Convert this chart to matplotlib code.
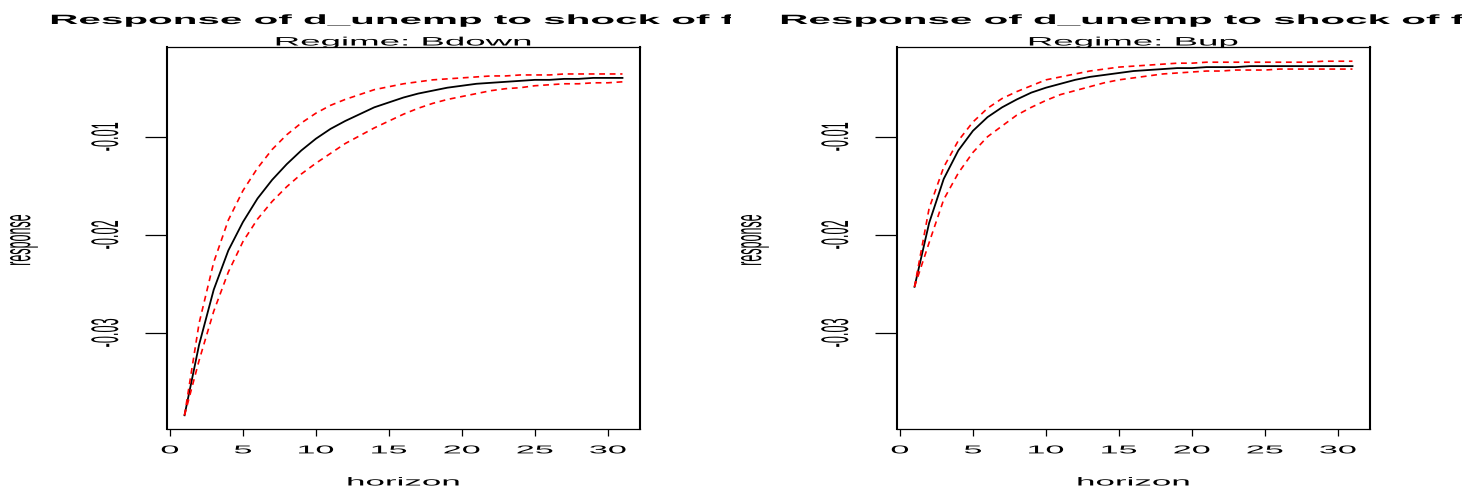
import matplotlib
matplotlib.use("Agg")
import matplotlib.pyplot as plt
from matplotlib.patheffects import AbstractPathEffect
from matplotlib.transforms import Affine2D, Bbox, TransformedBbox

plt.rcParams['font.family'] = ['Liberation Sans', 'DejaVu Sans']

# -----------------------------
# data (horizon 1..31)
# -----------------------------
horizon = list(range(1, 32))

bdown_irf = [-0.0384, -0.0312, -0.0256, -0.0216, -0.0187, -0.0163, -0.0144, -0.0128,
             -0.0114, -0.0102, -0.0092, -0.0084, -0.0077, -0.0070, -0.0065, -0.0060,
             -0.0056, -0.0053, -0.0050, -0.0048, -0.0046, -0.0045, -0.0044, -0.0043,
             -0.0042, -0.0042, -0.0041, -0.0041, -0.0040, -0.0040, -0.0040]
bdown_upper = [-0.0384, -0.0290, -0.0228, -0.0185, -0.0155, -0.0132, -0.0113, -0.0098,
               -0.0086, -0.0076, -0.0068, -0.0062, -0.0057, -0.0052, -0.0049, -0.0046,
               -0.0044, -0.0042, -0.0041, -0.0040, -0.0039, -0.0038, -0.0038, -0.0037,
               -0.0037, -0.0037, -0.0036, -0.0036, -0.0036, -0.0036, -0.0036]
bdown_lower = [-0.0384, -0.0328, -0.0278, -0.0238, -0.0207, -0.0184, -0.0166, -0.0151,
               -0.0138, -0.0127, -0.0117, -0.0107, -0.0099, -0.0091, -0.0084, -0.0077,
               -0.0071, -0.0066, -0.0062, -0.0059, -0.0056, -0.0053, -0.0051, -0.0050,
               -0.0048, -0.0047, -0.0046, -0.0046, -0.0045, -0.0045, -0.0044]

bup_irf = [-0.0253, -0.0188, -0.0143, -0.0114, -0.0094, -0.0080, -0.0070, -0.0062,
           -0.0055, -0.0050, -0.0046, -0.0042, -0.0039, -0.0037, -0.0035, -0.0033,
           -0.0032, -0.0031, -0.0030, -0.0030, -0.0029, -0.0029, -0.0029, -0.0028,
           -0.0028, -0.0028, -0.0028, -0.0028, -0.0028, -0.0028, -0.0028]
bup_upper = [-0.0253, -0.0173, -0.0131, -0.0104, -0.0085, -0.0071, -0.0061, -0.0054,
             -0.0048, -0.0042, -0.0039, -0.0036, -0.0033, -0.0031, -0.0029, -0.0028,
             -0.0027, -0.0026, -0.0025, -0.0025, -0.0024, -0.0024, -0.0024, -0.0024,
             -0.0024, -0.0024, -0.0024, -0.0024, -0.0023, -0.0023, -0.0023]
bup_lower = [-0.0253, -0.0208, -0.0164, -0.0137, -0.0116, -0.0100, -0.0089, -0.0078,
             -0.0070, -0.0063, -0.0057, -0.0053, -0.0049, -0.0045, -0.0042, -0.0040,
             -0.0038, -0.0036, -0.0035, -0.0034, -0.0033, -0.0033, -0.0032, -0.0032,
             -0.0032, -0.0031, -0.0031, -0.0031, -0.0031, -0.0031, -0.0031]

regimes = ["Bdown", "Bup"]
title = "Response of d_unemp to shock of f"
x_ticks = [0, 5, 10, 15, 20, 25, 30]
x_tick_labels = ["0", "5", "10", "15", "20", "25", "30"]
y_ticks = [-0.03, -0.02, -0.01]
y_tick_labels = ["-0.03", "-0.02", "-0.01"]


# the source picture is an R plot pulled out sideways, so every glyph is ~3x wider
class WideText(AbstractPathEffect):
    def __init__(self, sx=3.0):
        super().__init__()
        self.sx = sx

    def draw_path(self, renderer, gc, tpath, affine, rgbFace=None):
        ext = tpath.get_extents(affine)
        cx = 0.5 * (ext.x0 + ext.x1)
        stretch = Affine2D().translate(-cx, 0).scale(self.sx, 1).translate(cx, 0)
        renderer.draw_path(gc, tpath, affine + stretch, rgbFace)


SX = 3.0
W, H = 1462, 489
fig = plt.figure(figsize=(W / 100, H / 100), dpi=100)


def fx(x):
    return x / W


def fy(y):
    return 1 - y / H


panels = [
    (bdown_irf, bdown_lower, bdown_upper, 167),
    (bup_irf, bup_lower, bup_upper, 897),
]

for i, (irf, lower, upper, left) in enumerate(panels):
    ax = fig.add_axes([fx(left), 59 / H, 473 / W, 382 / H])
    ax.plot(horizon, irf, color="black", lw=1.3)
    ax.plot(horizon, lower, color="red", lw=1.2, ls=(0, (3.5, 2.8)))
    ax.plot(horizon, upper, color="red", lw=1.2, ls=(0, (3.5, 2.8)))
    ax.set_xlim(-0.2, 32.2)
    ax.set_ylim(-0.0398, -0.00085)

    ax.set_xticks(x_ticks)
    ax.set_xticklabels(x_tick_labels)
    ax.set_yticks(y_ticks)
    ax.set_yticklabels(y_tick_labels, rotation=90, va="center", ha="center")
    ax.tick_params(axis="x", length=5.3, width=0.9, pad=6.5, labelsize=8.2)
    ax.tick_params(axis="y", length=15.8, width=0.9, pad=28, labelsize=9.2)
    for lbl in ax.get_xticklabels() + ax.get_yticklabels():
        lbl.set_path_effects([WideText(SX)])

    for side in ("left", "right"):
        ax.spines[side].set_linewidth(1.5)
    for side in ("top", "bottom"):
        ax.spines[side].set_linewidth(0.9)

    cx = left + 236.5
    t = fig.text(fx(cx - 10.5), fy(25), title, ha="center", va="baseline",
                 fontsize=9.7, fontweight="bold", path_effects=[WideText(SX)])
    # left title runs into the right panel's region in R and gets cut there
    half = TransformedBbox(Bbox([[0.5 * i, 0], [0.5 * (i + 1), 1]]), fig.transFigure)
    t.set_clip_box(half)
    t.set_clip_on(True)

    fig.text(fx(cx), fy(46.5), f"Regime: {regimes[i]}", ha="center", va="baseline",
             fontsize=8.8, path_effects=[WideText(SX)])
    fig.text(fx(cx), fy(486.5), "horizon", ha="center", va="baseline",
             fontsize=8.4, path_effects=[WideText(SX)])
    fig.text(fx(731 * i + 23), fy(241), "response", rotation=90, ha="center", va="center",
             fontsize=9.0, path_effects=[WideText(SX)])

fig.savefig("out.png", dpi=100)
